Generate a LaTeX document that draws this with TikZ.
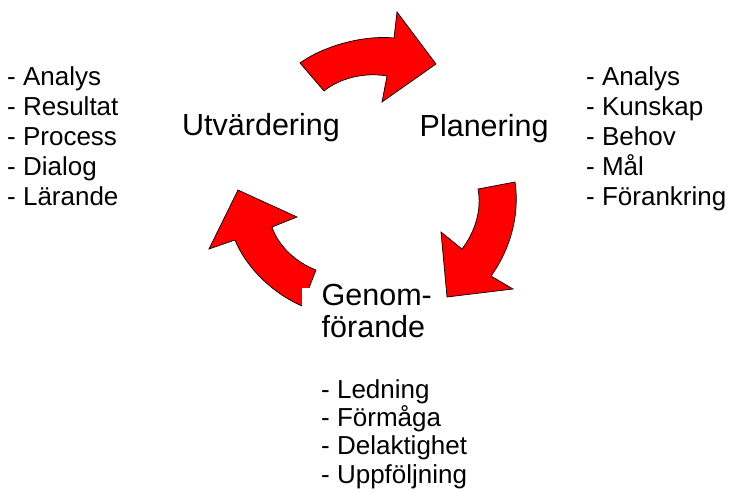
\documentclass[tikz,border=0pt]{standalone}
\usepackage{fontspec}
\setmainfont{Liberation Sans}
\begin{document}
\begin{tikzpicture}[x=1pt,y=-1pt,
  arrowshape/.style={fill=red, draw=black, line width=0.7pt, line join=miter},
  lbl/.style={font=\fontsize{30.5}{32}\selectfont, inner sep=0pt, anchor=base west},
  item/.style={font=\fontsize{26}{28}\selectfont, inner sep=0pt, anchor=base west}]
\useasboundingbox (0,0) rectangle (729,491);
% top arrow (Utvardering -> Planering)
\draw[arrowshape] (300,63) .. controls (325,45) and (365,35) .. (394,38)
  -- (397,12) -- (436,64) -- (382,102) -- (387,76)
  .. controls (365,72) and (340,78) .. (324,91) -- cycle;
% right arrow (Planering -> Genomforande)
\draw[arrowshape] (515,182) .. controls (520,215) and (510,250) .. (491,276)
  -- (513,289) -- (447,297) -- (441,232) -- (462,249)
  .. controls (475,232) and (482,210) .. (478,189) -- cycle;
% left arrow (Genomforande -> Utvardering)
\draw[arrowshape] (238,190) -- (297,217) -- (272,227)
  .. controls (278,245) and (295,262) .. (316,270)
  -- (302,306)
  .. controls (270,292) and (245,265) .. (235,240)
  -- (209,249) -- cycle;
% white text box over arrow ends
\fill[white] (302,288) rectangle (446,350);
% main labels
\node[lbl] (utv) at (182,135) {Utvärdering};
\node[lbl] (plan) at (419.5,136) {Planering};
\node[lbl] (gen1) at (321.5,305) {Genom-};
\node[lbl] (gen2) at (321.5,337) {förande};
% lists
\foreach \t [count=\i] in {Analys,Resultat,Process,Dialog,Lärande}
  \node[item] (l\i) at (7,{85+(\i-1)*30}) {- \t};
\foreach \t [count=\i] in {Analys,Kunskap,Behov,Mål,Förankring}
  \node[item] (r\i) at (586,{85+(\i-1)*30}) {- \t};
\foreach \t [count=\i] in {Ledning,Förmåga,Delaktighet,Uppföljning}
  \node[item] (b\i) at (321,{398+(\i-1)*28.4}) {- \t};
\end{tikzpicture}
\end{document}
